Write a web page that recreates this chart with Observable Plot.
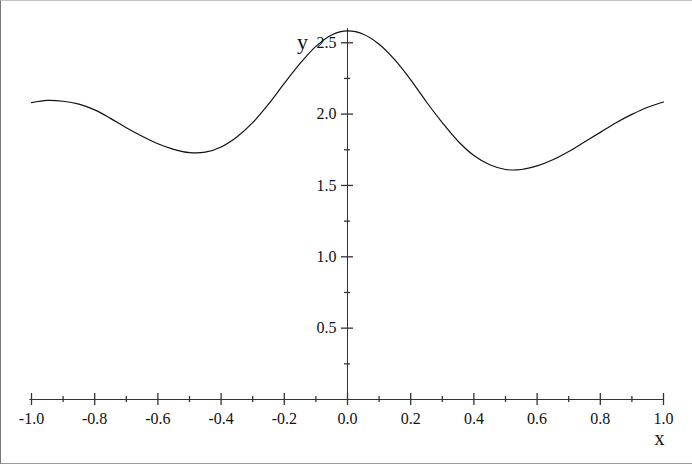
<!DOCTYPE html>
<html>
<head>
<meta charset="utf-8">
<script src="https://cdn.jsdelivr.net/npm/d3@7"></script>
<script src="https://cdn.jsdelivr.net/npm/@observablehq/plot@0.6"></script>
<style>
  body { margin: 0; background: #fff; }
  #wrap { position: relative; width: 692px; height: 466px; }
  #frame { position: absolute; left: 0; top: 0; width: 692px; height: 464px; box-sizing: border-box;
           border-left: 1px solid #777; border-top: 1px solid #c4c4c4; border-bottom: 1px solid #999; pointer-events: none; }
</style>
</head>
<body>
<div id="wrap"><div id="frame"></div></div>
<script>
const xs = [-1.0,-0.95,-0.9,-0.85,-0.8,-0.75,-0.7,-0.65,-0.6,-0.55,-0.5,-0.45,-0.4,-0.35,-0.3,-0.25,-0.2,-0.15,-0.1,-0.05,0,
            0.05,0.1,0.15,0.2,0.25,0.3,0.35,0.4,0.45,0.5,0.55,0.6,0.65,0.7,0.75,0.8,0.85,0.9,0.95,1.0];
const ys = [2.08,2.096,2.09,2.07,2.03,1.97,1.905,1.845,1.792,1.753,1.73,1.733,1.77,1.84,1.94,2.07,2.215,2.355,2.475,2.555,2.583,
            2.56,2.49,2.38,2.24,2.085,1.94,1.81,1.71,1.645,1.612,1.612,1.637,1.68,1.738,1.805,1.872,1.94,1.998,2.048,2.085];
const xMajor = [-1.0,-0.8,-0.6,-0.4,-0.2,0.0,0.2,0.4,0.6,0.8,1.0];
const xMinor = [-0.9,-0.7,-0.5,-0.3,-0.1,0.1,0.3,0.5,0.7,0.9];
const yMajor = [0.5,1.0,1.5,2.0,2.5];
const yMinor = [0.25,0.75,1.25,1.75,2.25];

const data = xs.map((x, i) => ({x, y: ys[i]}));
const font = "'Liberation Serif', 'Times New Roman', serif";
const axisColor = "#333";
// tick half-lengths expressed in data units (x: 316 px/unit, y: 142.7 px/unit)
const tx = 1 / 316, ty = 1 / 142.7;

const chart = Plot.plot({
  width: 692,
  height: 466,
  marginLeft: 31,
  marginRight: 29,
  marginTop: 28,
  marginBottom: 67,
  x: {domain: [-1, 1], axis: null},
  y: {domain: [0, 2.6], axis: null},
  style: {fontFamily: font, background: "transparent", overflow: "visible"},
  marks: [
    Plot.ruleY([0], {x1: -1.005, x2: 1.0, stroke: axisColor, strokeWidth: 1}),
    Plot.ruleX([0], {y1: 0, y2: 2.6, stroke: axisColor, strokeWidth: 1}),
    Plot.ruleX(xMajor, {x: d => d, y1: -6 * ty, y2: 6 * ty, stroke: axisColor, strokeWidth: 1.3}),
    Plot.ruleX(xMinor, {x: d => d, y1: -3 * ty, y2: 3 * ty, stroke: axisColor, strokeWidth: 1.3}),
    Plot.ruleY(yMajor, {y: d => d, x1: -6 * tx, x2: 6 * tx, stroke: axisColor, strokeWidth: 1.3}),
    Plot.ruleY(yMinor, {y: d => d, x1: -3 * tx, x2: 3 * tx, stroke: axisColor, strokeWidth: 1.3}),
    Plot.text(xMajor, {x: d => d, y: 0, text: d => d.toFixed(1), dy: 19, fontSize: 16, fill: "#111"}),
    Plot.text(yMajor, {x: 0, y: d => d, text: d => d.toFixed(1), dx: -11, textAnchor: "end", fontSize: 16, fill: "#111"}),
    Plot.text(["x"], {x: 1.0, y: 0, text: d => d, dx: -4, dy: 39, fontSize: 20, fill: "#111"}),
    Plot.text(["y"], {x: 0, y: 2.5, text: d => d, dx: -45, dy: -1, fontSize: 22, fill: "#111"}),
    Plot.line(data, {x: "x", y: "y", curve: "catmull-rom", stroke: "#111", strokeWidth: 1.2})
  ]
});
document.getElementById("wrap").prepend(chart);
</script>
</body>
</html>
